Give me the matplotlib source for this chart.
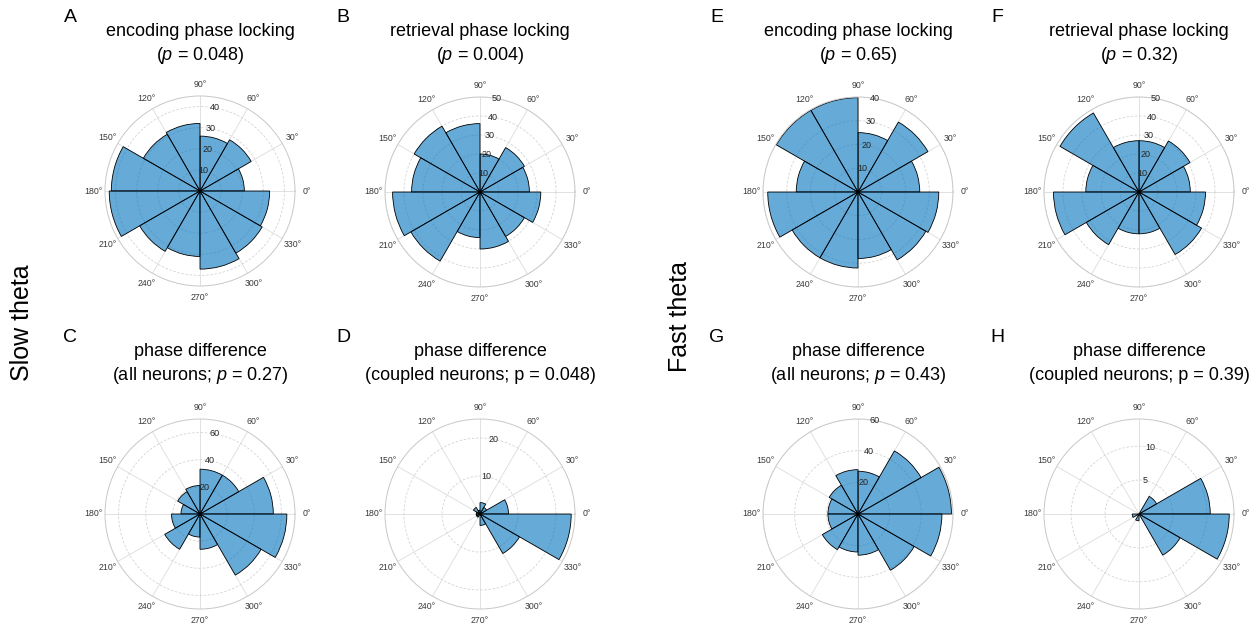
import numpy as np
import matplotlib
matplotlib.use("Agg")
import matplotlib.pyplot as plt

plt.rcParams['font.family'] = ['Liberation Sans', 'DejaVu Sans']
plt.rcParams['mathtext.fontset'] = 'custom'
plt.rcParams['mathtext.rm'] = 'Liberation Sans'
plt.rcParams['mathtext.it'] = 'Liberation Sans:italic'

# bin left edges (degrees), 30-degree bins
bin_edges_deg = list(range(0, 360, 30))

# counts per bin (0-30, 30-60, ..., 330-360)
enc_slow = [21, 28, 26, 32, 31, 42, 43, 33, 31, 37, 34, 33]
ret_slow = [26, 27, 20, 36, 40, 36, 46, 42, 24, 30, 27, 32]
diff_all_slow = [54, 33, 33, 21, 19, 14, 21, 30, 17, 26, 52, 64]
diff_cpl_slow = [7.5, 2, 3, 1, 2, 1, 1, 1, 0, 3, 12, 24]
enc_fast = [26, 34, 25, 39.7, 39.7, 26, 38, 32, 32, 28, 33, 34]
ret_fast = [27, 31, 27, 27, 48, 28, 45, 32, 22, 22, 38, 35]
diff_all_fast = [59, 46, 27, 28, 21, 19, 19, 26, 24, 26, 41, 53]
diff_cpl_fast = [10.5, 3, 0, 0, 0, 0, 1, 0, 1, 0, 7, 13.3]

panel_letters = ['A', 'B', 'C', 'D', 'E', 'F', 'G', 'H']
title_line1 = ['encoding phase locking', 'retrieval phase locking',
               'phase difference', 'phase difference',
               'encoding phase locking', 'retrieval phase locking',
               'phase difference', 'phase difference']
title_line2 = ['($p$ = 0.048)', '($p$ = 0.004)',
               '(all neurons; $p$ = 0.27)', '(coupled neurons; p = 0.048)',
               '($p$ = 0.65)', '($p$ = 0.32)',
               '(all neurons; $p$ = 0.43)', '(coupled neurons; p = 0.39)']
data = [enc_slow, ret_slow, diff_all_slow, diff_cpl_slow,
        enc_fast, ret_fast, diff_all_fast, diff_cpl_fast]
rmax = [45, 50, 70, 25, 40, 50, 60, 14]
rticks = [[10, 20, 30, 40], [10, 20, 30, 40, 50], [20, 40, 60], [10, 20],
          [10, 20, 30, 40], [10, 20, 30, 40, 50], [20, 40, 60], [5, 10]]

W, H = 1260, 628
fig = plt.figure(figsize=(W / 100, H / 100), dpi=100)

centers = [(200, 191), (480, 192), (200, 514), (480, 514),
           (858, 192), (1139, 192), (858, 514), (1139, 514)]
R = 95
face = (0.0, 0.447, 0.741, 0.6)

for i in range(8):
    cx, cy = centers[i]
    ax = fig.add_axes([(cx - R) / W, 1 - (cy + R) / H, 2 * R / W, 2 * R / H],
                      projection='polar')
    ax.set_theta_zero_location('E')
    ax.set_rlim(0, rmax[i])
    ax.set_rticks(rticks[i])
    ax.set_yticklabels([])
    ax.set_thetagrids(bin_edges_deg, labels=[f'{a}°' for a in bin_edges_deg],
                      fontsize=6.3, color='#3a3a3a')
    ax.tick_params(axis='x', length=0, pad=1.5)
    ax.tick_params(axis='y', length=0)
    ax.yaxis.grid(True, linestyle=(0, (3, 2)), color='#d4d4d4', linewidth=0.6)
    ax.xaxis.grid(True, linestyle='-', color='#dcdcdc', linewidth=0.6)
    ax.spines['polar'].set_color('#c8c8c8')
    ax.spines['polar'].set_linewidth(0.7)
    ax.set_axisbelow(True)
    bars = ax.bar(np.deg2rad(bin_edges_deg), data[i], width=np.deg2rad(30),
                  align='edge', facecolor=face, edgecolor='black',
                  linewidth=0.6, zorder=2)
    for b in bars:
        b.set_clip_on(False)
    for t in rticks[i]:
        ax.text(np.deg2rad(80), t, str(t), ha='center', va='center',
                fontsize=6.5, color='#262626', zorder=5)
    # titles
    if cy < 300:
        y1, y2, yl = 32, 55, 18
    else:
        y1, y2, yl = 352, 375, 338
    fig.text(cx / W, 1 - y1 / H, title_line1[i], ha='center', va='center',
             fontsize=13)
    fig.text(cx / W, 1 - y2 / H, title_line2[i], ha='center', va='center',
             fontsize=13)
    lx = 70 if cx < 300 else (343 if cx < 600 else (717 if cx < 1000 else 997))
    fig.text(lx / W, 1 - yl / H, panel_letters[i], ha='center', va='center',
             fontsize=14)

fig.text(22 / W, 1 - 323 / H, 'Slow theta', rotation=90, ha='center',
         va='center', fontsize=18)
fig.text(680 / W, 1 - 316 / H, 'Fast theta', rotation=90, ha='center',
         va='center', fontsize=18)

fig.savefig('out.png', dpi=100)
